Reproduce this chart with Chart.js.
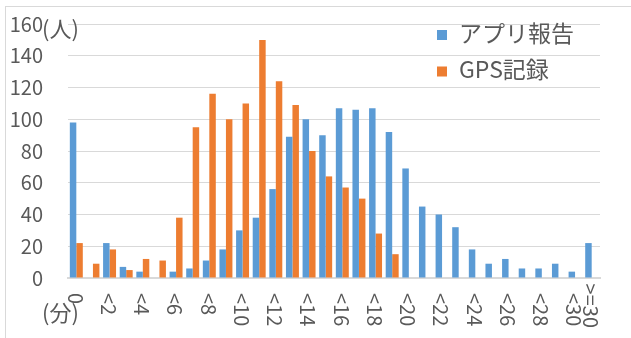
<!DOCTYPE html>
<html>
<head>
<meta charset="utf-8">
<script src="https://cdn.jsdelivr.net/npm/chart.js@4/dist/chart.umd.min.js"></script>
<style>
  html, body { margin: 0; padding: 0; background: #fff; }
  #wrap { position: relative; width: 631px; height: 338px; overflow: hidden; }
  #frame { position: absolute; left: 5px; top: 6px; right: -2px; bottom: -2px;
           border-left: 1px solid #d9d9d9; border-top: 1px solid #d9d9d9; }
  #c { position: absolute; left: 0; top: 0; }
</style>
</head>
<body>
<div id="wrap">
  <div id="frame"></div>
  <canvas id="c" width="631" height="338"></canvas>
</div>
<script>
// Minutes buckets: exactly 0, then "< n" minutes up to 30, then 30 and over
const categories = ['0', '<1', '<2', '<3', '<4', '<5', '<6', '<7', '<8', '<9', '<10',
  '<11', '<12', '<13', '<14', '<15', '<16', '<17', '<18', '<19', '<20',
  '<21', '<22', '<23', '<24', '<25', '<26', '<27', '<28', '<29', '<30', '>=30'];

// Number of people per bucket
const appReport = [98, 0, 22, 7, 4, 0, 4, 6, 11, 18, 30, 38, 56, 89, 100, 90, 107, 106, 107, 92,
  69, 45, 40, 32, 18, 9, 12, 6, 6, 9, 4, 22];
const gpsRecord = [22, 9, 18, 5, 12, 11, 38, 95, 116, 100, 110, 150, 124, 109, 80, 64, 57, 50, 28, 15,
  0, 0, 0, 0, 0, 0, 0, 0, 0, 0, 0, 0];

const seriesNames = ['アプリ報告', 'GPS記録'];
const yTicks = [0, 20, 40, 60, 80, 100, 120, 140, 160];
const yUnit = '(人)';
const xUnit = '(分)';

const FONT = '"Noto Sans CJK JP", "Noto Sans", sans-serif';
const TEXT = '#595959';

// Only every second bucket is labelled, plus the final open-ended bucket
function showLabel(i) { return i % 2 === 0 || i === categories.length - 1; }

const decorations = {
  id: 'decorations',
  afterDraw(chart) {
    const ctx = chart.ctx;
    const xs = chart.scales.x;
    const ys = chart.scales.y;
    const area = chart.chartArea;
    ctx.save();
    ctx.fillStyle = TEXT;

    // Category labels, rotated to read downward
    ctx.font = '20px ' + FONT;
    ctx.textAlign = 'left';
    ctx.textBaseline = 'middle';
    const top = area.bottom + 15;
    const limit = area.bottom + 50;
    categories.forEach((lab, i) => {
      if (!showLabel(i)) return;
      const w = ctx.measureText(lab).width;
      const y0 = Math.min(top, limit - w);
      ctx.save();
      ctx.translate(xs.getPixelForValue(i) - 1, y0);
      ctx.rotate(Math.PI / 2);
      ctx.fillText(lab, 0, 0);
      ctx.restore();
    });

    // Unit captions
    ctx.textAlign = 'left';
    ctx.font = '22px ' + FONT;
    ctx.fillText(yUnit, ys.left + 42, ys.getPixelForValue(yTicks[yTicks.length - 1]) + 5);
    ctx.fillText(xUnit, ys.left + 42, area.bottom + 35);

    // Legend inside the plot
    ctx.font = '23px ' + FONT;
    const lx = area.left + 369;
    chart.data.datasets.forEach((ds, k) => {
      const cy = area.top + 9 + k * 36.5;
      ctx.fillStyle = ds.backgroundColor;
      ctx.fillRect(lx, cy - 3, 10, 10);
      ctx.fillStyle = TEXT;
      ctx.fillText(ds.label, lx + 22, cy);
    });
    ctx.restore();
  }
};

new Chart(document.getElementById('c'), {
  type: 'bar',
  data: {
    labels: categories,
    datasets: [
      { label: seriesNames[0], data: appReport, backgroundColor: '#5B9BD5',
        categoryPercentage: 0.78, barPercentage: 1.0, borderWidth: 0 },
      { label: seriesNames[1], data: gpsRecord, backgroundColor: '#ED7D31',
        categoryPercentage: 0.78, barPercentage: 1.0, borderWidth: 0 }
    ]
  },
  options: {
    responsive: false,
    animation: false,
    events: [],
    layout: { padding: { top: 24, right: 31, left: 0, bottom: 0 } },
    plugins: { legend: { display: false }, tooltip: { enabled: false } },
    scales: {
      x: {
        grid: { display: false },
        border: { display: true, color: '#d9d9d9', width: 2 },
        ticks: { display: false },
        afterFit(s) { s.height = 60; s.paddingLeft = 0; s.paddingRight = 0; }
      },
      y: {
        min: yTicks[0],
        max: yTicks[yTicks.length - 1],
        afterBuildTicks(s) { s.ticks = yTicks.map(v => ({ value: v })); },
        ticks: { color: TEXT, font: { size: 20, family: FONT }, padding: 25 },
        grid: { color: '#d9d9d9', lineWidth: 1, drawTicks: false },
        border: { display: false },
        afterFit(s) { s.width = 68; s.paddingTop = 0; s.paddingBottom = 0; }
      }
    }
  },
  plugins: [decorations]
});
</script>
</body>
</html>
